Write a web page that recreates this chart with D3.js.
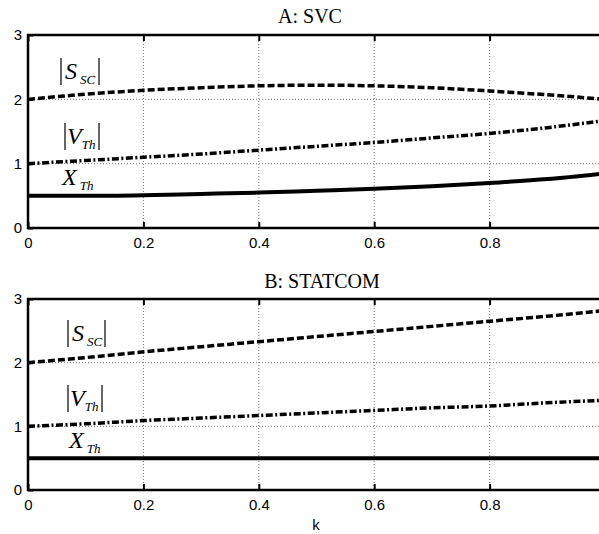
<!DOCTYPE html>
<html>
<head>
    <script src="https://d3js.org/d3.v7.min.js"></script>
    <style>
        body { margin: 0; background: #fff; }
        .tick text { font-family: "Liberation Sans", Arial, sans-serif; font-size: 15px; fill: #000; }
        .grid line { stroke: #777; stroke-width: 1; stroke-dasharray: 1,2; }
    </style>
</head>
<body>
    <svg width="599" height="534"></svg>
    <script>
        // k values and curves
        const kValues = [0, 0.1, 0.2, 0.3, 0.4, 0.5, 0.6, 0.7, 0.8, 0.9, 1.0];

        const svcSsc = [2.00, 2.08, 2.14, 2.18, 2.21, 2.22, 2.21, 2.18, 2.13, 2.07, 2.00];
        const svcVth = [1.00, 1.05, 1.10, 1.15, 1.21, 1.27, 1.33, 1.40, 1.47, 1.56, 1.67];
        const svcXth = [0.50, 0.50, 0.51, 0.53, 0.55, 0.58, 0.61, 0.65, 0.70, 0.76, 0.85];

        const statSsc = [2.00, 2.08, 2.17, 2.25, 2.33, 2.41, 2.49, 2.57, 2.65, 2.73, 2.82];
        const statVth = [1.00, 1.04, 1.09, 1.13, 1.17, 1.21, 1.25, 1.29, 1.32, 1.37, 1.41];
        const statXth = [0.50, 0.50, 0.50, 0.50, 0.50, 0.50, 0.50, 0.50, 0.50, 0.50, 0.50];

        const xTicks = [0, 0.2, 0.4, 0.6, 0.8];
        const yTicks = [0, 1, 2, 3];

        const svg = d3.select("svg");
        const x = d3.scaleLinear().domain([0, 1]).range([28, 605]);
        const serif = "'Liberation Serif', 'Times New Roman', serif";

        const styles = {
            ssc: { width: 3.5, dash: "7,3" },
            vth: { width: 3.5, dash: "7,2.5,2,2.5" },
            xth: { width: 4, dash: null }
        };

        function panel(opts) {
            const y = d3.scaleLinear().domain([0, 3]).range([opts.bottom, opts.top]);
            const g = svg.append("g");

            // dotted grid
            g.append("g").attr("class", "grid")
                .selectAll("line").data(xTicks.slice(1)).join("line")
                .attr("x1", d => x(d)).attr("x2", d => x(d))
                .attr("y1", opts.top).attr("y2", opts.bottom);
            g.append("g").attr("class", "grid")
                .selectAll("line").data([1, 2]).join("line")
                .attr("x1", x(0)).attr("x2", x(1))
                .attr("y1", d => y(d)).attr("y2", d => y(d));

            // curves
            const line = d3.line()
                .x(d => x(d[0]))
                .y(d => y(d[1]))
                .curve(d3.curveMonotoneX);

            opts.series.forEach(s => {
                const st = styles[s.key];
                g.append("path")
                    .datum(kValues.map((k, i) => [k, s.values[i]]))
                    .attr("fill", "none")
                    .attr("stroke", "#000")
                    .attr("stroke-width", st.width)
                    .attr("stroke-dasharray", st.dash)
                    .attr("d", line);
            });

            // frame
            g.append("rect")
                .attr("x", x(0)).attr("y", opts.top)
                .attr("width", x(1) - x(0)).attr("height", opts.bottom - opts.top)
                .attr("fill", "none").attr("stroke", "#000").attr("stroke-width", 2.5);

            // axes
            g.append("g")
                .attr("transform", "translate(0," + opts.bottom + ")")
                .call(d3.axisBottom(x).tickValues(xTicks).tickSizeInner(-6).tickSizeOuter(0).tickPadding(9)
                    .tickFormat(d => d === 0 ? "0" : d3.format(".1f")(d)))
                .call(a => a.select(".domain").remove())
                .call(a => a.selectAll(".tick line").attr("stroke-width", 2));
            g.append("g")
                .attr("transform", "translate(0," + opts.top + ")")
                .call(d3.axisTop(x).tickValues(xTicks).tickSizeInner(-6).tickSizeOuter(0).tickFormat(""))
                .call(a => a.select(".domain").remove())
                .call(a => a.selectAll(".tick line").attr("stroke-width", 2));
            g.append("g")
                .attr("transform", "translate(" + x(0) + ",0)")
                .call(d3.axisLeft(y).tickValues(yTicks).tickSizeInner(-5).tickSizeOuter(0).tickPadding(6).tickFormat(d3.format("d")))
                .call(a => a.select(".domain").remove())
                .call(a => a.selectAll(".tick line").attr("stroke-width", 2));

            // title
            svg.append("text")
                .attr("x", opts.titleX).attr("y", opts.titleY)
                .attr("text-anchor", "middle")
                .style("font-family", serif)
                .style("font-size", "20px")
                .text(opts.title);

            // curve labels
            opts.labels.forEach(l => {
                const t = g.append("text")
                    .attr("x", l.x).attr("y", l.y)
                    .style("font-family", serif)
                    .style("font-style", "italic");
                t.append("tspan").style("font-size", "24px").text(l.main);
                t.append("tspan").style("font-size", "13px").attr("dx", l.gap).attr("dy", 5).text(l.sub);
                if (l.bars) {
                    g.selectAll(null).data(l.bars).join("line")
                        .attr("x1", d => d).attr("x2", d => d)
                        .attr("y1", l.y - 21).attr("y2", l.y + 6)
                        .attr("stroke", "#000").attr("stroke-width", 1.2);
                }
            });
        }

        panel({
            top: 35, bottom: 228, title: "A: SVC", titleX: 310, titleY: 23,
            series: [
                { key: "ssc", values: svcSsc },
                { key: "vth", values: svcVth },
                { key: "xth", values: svcXth }
            ],
            labels: [
                { main: "S", sub: "SC", x: 65, y: 79, gap: 3, bars: [61, 99] },
                { main: "V", sub: "Th", x: 67, y: 144, gap: 0, bars: [65, 99] },
                { main: "X", sub: "Th", x: 62, y: 185, gap: 3 }
            ]
        });

        panel({
            top: 299, bottom: 490, title: "B: STATCOM", titleX: 322, titleY: 288,
            series: [
                { key: "ssc", values: statSsc },
                { key: "vth", values: statVth },
                { key: "xth", values: statXth }
            ],
            labels: [
                { main: "S", sub: "SC", x: 72, y: 341, gap: 3, bars: [68, 105] },
                { main: "V", sub: "Th", x: 70, y: 406, gap: 0, bars: [68, 102] },
                { main: "X", sub: "Th", x: 69, y: 448, gap: 3 }
            ]
        });

        svg.append("text")
            .attr("x", 316).attr("y", 530)
            .attr("text-anchor", "middle")
            .style("font-family", "'Liberation Sans', Arial, sans-serif")
            .style("font-size", "15px")
            .text("k");
    </script>
</body>
</html>
